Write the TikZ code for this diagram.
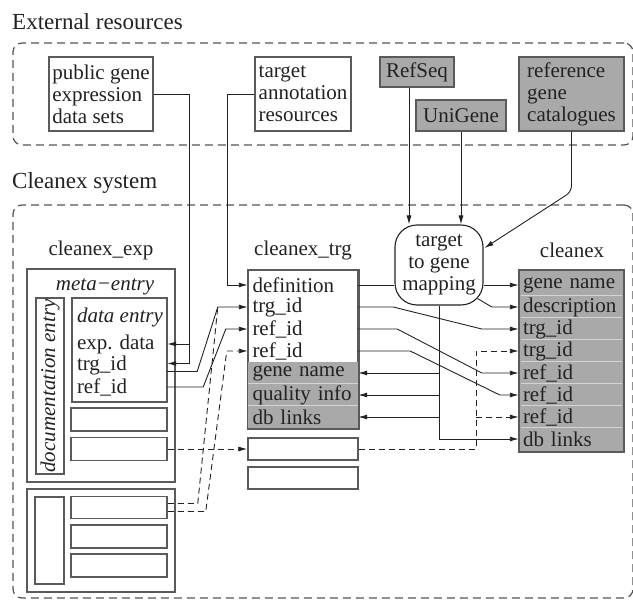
\documentclass[tikz,border=0pt]{standalone}
\usepackage{fontspec}
\setmainfont{Liberation Serif}
\usetikzlibrary{arrows.meta,calc}
\definecolor{ink}{HTML}{222222}
\definecolor{boxline}{HTML}{5A5A5A}
\definecolor{cellgrey}{HTML}{A9A9A9}
\definecolor{sepc}{HTML}{D4D4D4}
\definecolor{dashline}{HTML}{555555}
\begin{document}
\begin{tikzpicture}[x=1pt,y=-1pt,
  every node/.style={font=\fontsize{21}{22}\selectfont, text=ink},
  area/.style={draw=dashline, line width=1.2pt, dash pattern=on 8pt off 5pt, rounded corners=9pt, inner sep=0pt},
  head/.style={font=\fontsize{23}{26}\selectfont, anchor=west, inner sep=0pt},
  box/.style={draw=boxline, line width=1.5pt, fill=white, inner sep=0pt},
  gbox/.style={box, fill=cellgrey},
  src/.style={box, align=left, minimum height=74pt},
  it/.style={font=\itshape\fontsize{21}{22}\selectfont, inner sep=0pt},
  trgrow/.style={text width=101pt, inner xsep=4.5pt, inner ysep=0pt, minimum height=22pt, align=left},
  cxrow/.style={text width=97pt, inner xsep=4pt, inner ysep=0pt, minimum height=22pt, align=left},
  derow/.style={text width=85pt, inner xsep=5pt, inner ysep=0pt, minimum height=21pt, align=left},
  sepline/.style={draw=sepc, line width=1pt},
  conn/.style={draw=ink, line width=0.9pt},
  arr/.style={conn, -{Latex[length=9pt,width=5pt]}},
  dconn/.style={conn, dash pattern=on 6pt off 4pt},
  darr/.style={arr, dash pattern=on 6pt off 4pt}
]
\useasboundingbox (0,0) rectangle (633,602);

% areas
\node[area, minimum width=620pt, minimum height=102pt] (extarea) at (323,94) {};
\node[area, minimum width=620pt, minimum height=393pt] (sysarea) at (323,401.5) {};
\node[head] (exthead) at (12,22) {External resources};
\node[head] (syshead) at (12,183) {Cleanex system};

% external resources
\node[src, minimum width=104pt] (pub) at (101,94) {public gene\\expression\\data sets};
\node[src, minimum width=96pt] (tgt) at (303,94) {target\\annotation\\resources};
\node[gbox, minimum width=74pt, minimum height=30pt] (refseq) at (417,72) {RefSeq};
\node[gbox, minimum width=90pt, minimum height=31pt] (unigene) at (461,115.5) {UniGene};
\node[src, gbox, minimum width=105pt] (refcat) at (571.5,94) {reference\\gene\\catalogues};

% labels
\node (lexp) at (101,250) {cleanex\_exp};
\node (ltrg) at (303,250) {cleanex\_trg};
\node (lcx) at (572,250) {cleanex};

% cleanex_exp
\node[box, minimum width=148pt, minimum height=213pt] (exp1) at (101,375.5) {};
\node[it] (meta) at (105,287) {meta−entry};
\node[box, minimum width=28pt, minimum height=176pt] (doc) at (50,386) {};
\node[it, rotate=90] (doclbl) at (doc.center) {documentation entry};
\node[box, minimum width=95pt, minimum height=104pt] (dentry) at (119.5,350) {};
\node[it] (delbl) at (120,317) {data entry};
\node[derow] (de-exp) at (119.5,344) {exp.\ data};
\node[derow] (de-trg) at (119.5,365.5) {trg\_id};
\node[derow] (de-ref) at (119.5,387) {ref\_id};
\node[box, minimum width=96pt, minimum height=23pt] (expb1) at (119,419.5) {};
\node[box, minimum width=96pt, minimum height=23pt] (expb2) at (119,449) {};

\node[box, minimum width=148pt, minimum height=103pt] (exp2) at (101,540.5) {};
\node[box, minimum width=29pt, minimum height=87pt] (m2doc) at (49.5,540.5) {};
\node[box, minimum width=96pt, minimum height=22pt] (m2b1) at (119,507.5) {};
\node[box, minimum width=96pt, minimum height=23pt] (m2b2) at (119,536.5) {};
\node[box, minimum width=96pt, minimum height=23pt] (m2b3) at (119,565.5) {};

% cleanex_trg
\node[box, minimum width=110pt, minimum height=158pt] (trgbox) at (303,349) {};
\node[trgrow] (trg-def) at (303,285) {definition};
\node[trgrow] (trg-trg) at (303,307) {trg\_id};
\node[trgrow] (trg-ref1) at (303,329) {ref\_id};
\node[trgrow] (trg-ref2) at (303,351) {ref\_id};
\node[trgrow, fill=cellgrey] (trg-gene) at (303,373) {gene name};
\node[trgrow, fill=cellgrey] (trg-qual) at (303,395) {quality info};
\node[trgrow, fill=cellgrey] (trg-db) at (303,417) {db links};
\draw[sepline] (trg-qual.north west) -- (trg-qual.north east);
\draw[sepline] (trg-db.north west) -- (trg-db.north east);
\draw[draw=boxline, line width=1.5pt] (trgbox.north west) rectangle (trgbox.south east);
\node[box, minimum width=110pt, minimum height=22pt] (trg-e1) at (303,449) {};
\node[box, minimum width=110pt, minimum height=22pt] (trg-e2) at (303,478) {};

% cleanex
\node[gbox, minimum width=105pt, minimum height=182pt] (cxbox) at (571.5,361) {};
\node[cxrow] (cx-gene) at (571.5,285) {gene name};
\node[cxrow] (cx-desc) at (571.5,307) {description};
\node[cxrow] (cx-trg1) at (571.5,329) {trg\_id};
\node[cxrow] (cx-trg2) at (571.5,351) {trg\_id};
\node[cxrow] (cx-ref1) at (571.5,373) {ref\_id};
\node[cxrow] (cx-ref2) at (571.5,395) {ref\_id};
\node[cxrow] (cx-ref3) at (571.5,417) {ref\_id};
\node[cxrow] (cx-db) at (571.5,439) {db links};
\foreach \r in {cx-desc,cx-trg1,cx-trg2,cx-ref1,cx-ref2,cx-ref3,cx-db}
  \draw[sepline] ($(\r.north west)+(2,0)$) -- ($(\r.north east)+(-2,0)$);

% mapping
\node[draw=ink, line width=1.1pt, rounded corners=22pt, minimum width=88pt, minimum height=80pt,
      align=center, fill=white, inner sep=0pt] (map) at (439,265) {target\\to gene\\mapping};

% connectors: external -> system
\coordinate (vx1) at (189,0);
\coordinate (vx2) at (227,0);
\coordinate (vx3) at (476,0);
\coordinate (rsx) at (409,0);
\draw[arr] (pub.east) -| ($(vx1 |- de-trg)+(0,-2)$) -- ($(de-trg.east)+(0,-2)$);
\draw[arr] (vx1 |- de-exp) -- (de-exp.east);
\draw[arr] (tgt.west) -| (vx2 |- trg-def) -- (trg-def.west);
\draw[arr] (rsx |- refseq.south) -- (rsx |- map.north);
\draw[arr] (unigene.south) -- (unigene.south |- map.north);
\draw[arr, rounded corners=6pt] (refcat.south) -- ($(refcat.south)+(0,60)$) -- ($(map.east)+(1,-17)$);

% exp -> trg
\draw[arr] ($(de-trg.east)+(0,6)$) -- +(30,0) -- ($(trg-trg.west)+(-30,0)$) -- (trg-trg.west);
\draw[arr] (de-ref.east) -- +(36,0) -- ($(trg-ref1.west)+(-22,0)$) -- (trg-ref1.west);
\draw[dconn] ($(m2b1.east)+(0,-4)$) -- +(30,0) -- ($(trg-trg.west)+(-30,0)$);
\draw[darr] ($(m2b1.east)+(0,4)$) -- +(38,0) -- ($(trg-ref2.west)+(-21,0)$) -- (trg-ref2.west);
\draw[darr] (expb2.east) -- (trg-e1.west);

% trg -> cleanex
\draw[conn] (trg-def.east) -- (trg-def.east -| map.west);
\draw[arr] (map.east |- cx-gene) -- (cx-gene.west);
\draw[arr] ($(map.south east)+(-6,-7)$) -- ($(cx-desc.west)+(-27,0)$) -- (cx-desc.west);
\draw[arr] (trg-trg.east) -- +(35,0) -- ($(cx-trg1.west)+(-37,0)$) -- (cx-trg1.west);
\draw[arr] (trg-ref1.east) -- +(39,0) -- ($(cx-ref1.west)+(-37,0)$) -- (cx-ref1.west);
\draw[arr] (trg-ref2.east) -- +(52,0) -- ($(cx-ref2.west)+(-19,0)$) -- (cx-ref2.west);
\draw[arr] (map.south) |- (cx-db.west);
\draw[arr] (map.south |- trg-gene) -- (trg-gene.east);
\draw[arr] (map.south |- trg-qual) -- (trg-qual.east);
\draw[arr] (map.south |- trg-db) -- (trg-db.east);
\draw[darr] (trg-e1.east) -| (vx3 |- cx-trg2) -- (cx-trg2.west);
\draw[darr] (vx3 |- cx-ref3) -- (cx-ref3.west);
\end{tikzpicture}
\end{document}
